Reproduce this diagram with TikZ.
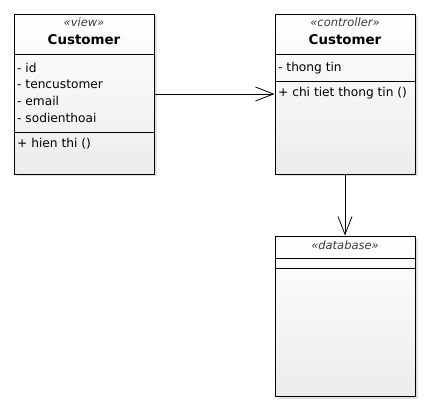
\documentclass[tikz,border=0pt]{standalone}
\usepackage{fontspec}
\setmainfont{DejaVu Sans}
\usetikzlibrary{arrows.meta,shadows}
\definecolor{boxbot}{RGB}{236,236,236}
\definecolor{stereo}{RGB}{60,60,60}
\tikzset{
  umlbox/.style={draw=black, line width=0.9pt, top color=white, bottom color=boxbot,
    minimum width=140pt, minimum height=160pt, inner sep=0pt,
    drop shadow={shadow xshift=2.5pt, shadow yshift=-2.5pt, fill=black!30, opacity=0.4}},
  divider/.style={draw=black, line width=0.9pt},
  stereotype/.style={font=\fontsize{11.5}{13}\selectfont\itshape, text=stereo, inner sep=0pt},
  classname/.style={font=\fontsize{13.4}{15}\selectfont\bfseries, inner sep=0pt},
  member/.style={font=\fontsize{12.2}{14}\selectfont, inner sep=0pt, anchor=west},
  assoc/.style={draw=black, line width=0.8pt, -{Straight Barb[length=18pt,width=14pt,line width=0.8pt]}}
}
\begin{document}
\begin{tikzpicture}[x=1pt,y=-1pt]
\useasboundingbox (0,0) rectangle (430,411);

% view class
\node[umlbox] (view) at (84,94) {};
\node[stereotype] (viewst) at (84,22) {«view»};
\node[classname] (viewnm) at (84,40) {Customer};
\draw[divider] (view.west |- 0,54) -- (view.east |- 0,54);
\node[member] (v1) at (17,68) {- id};
\node[member] (v2) at (17,84.5) {- tencustomer};
\node[member] (v3) at (17,101) {- email};
\node[member] (v4) at (17,117.5) {- sodienthoai};
\draw[divider] (view.west |- 0,132) -- (view.east |- 0,132);
\node[member] (v5) at (17,144) {+ hien thi ()};

% controller class
\node[umlbox] (ctrl) at (345,94) {};
\node[stereotype] (ctrlst) at (345,22) {«controller»};
\node[classname] (ctrlnm) at (345,40) {Customer};
\draw[divider] (ctrl.west |- 0,54) -- (ctrl.east |- 0,54);
\node[member] (c1) at (278,68) {- thong tin};
\draw[divider] (ctrl.west |- 0,81) -- (ctrl.east |- 0,81);
\node[member] (c2) at (278,93) {+ chi tiet thong tin ()};

% database class
\node[umlbox] (db) at (345,316) {};
\node[stereotype] (dbst) at (345,245) {«database»};
\draw[divider] (db.west |- 0,258) -- (db.east |- 0,258);
\draw[divider] (db.west |- 0,268) -- (db.east |- 0,268);

% connectors
\draw[assoc] (view.east) -- (ctrl.west);
\draw[assoc] (ctrl.south) -- (db.north);
\end{tikzpicture}
\end{document}
